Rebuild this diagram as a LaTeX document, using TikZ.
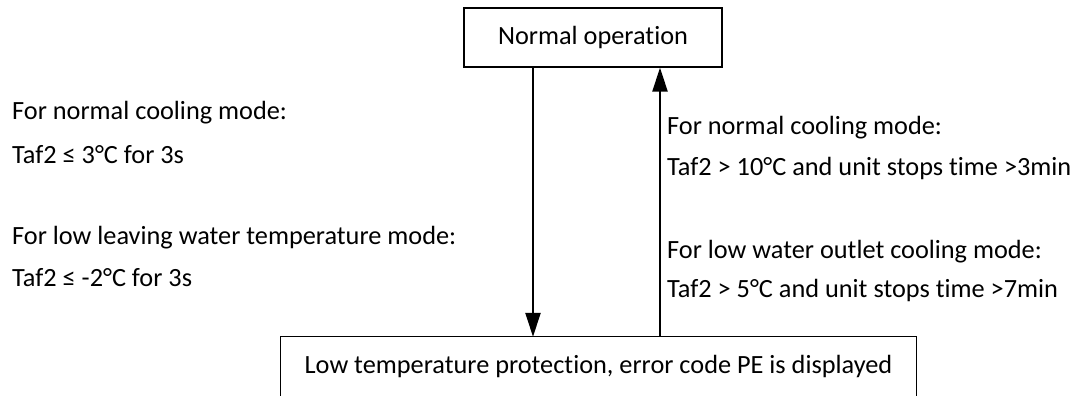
\documentclass[tikz,border=0pt]{standalone}
\usepackage{fontspec}
\setmainfont[Ligatures=CommonOff]{Carlito}
\usetikzlibrary{arrows.meta}
\begin{document}
\begin{tikzpicture}[x=1pt,y=-1pt,
  txt/.style={font=\fontsize{26.3}{31}\selectfont},
  box/.style={txt,draw=black,line width=1.3pt,minimum height=59pt,inner sep=0pt},
  lbl/.style={txt,anchor=west,inner sep=0pt},
  arr/.style={line width=2.4pt,-{Triangle[length=24pt,width=15pt]}}]
\useasboundingbox (0,0) rectangle (1080,396);
\node[box,minimum width=258pt] (top) at (593,37.5) {Normal operation};
\node[txt,inner sep=0pt,minimum width=635pt,minimum height=59pt] (bot) at (598.5,366.5) {Low temperature protection, error code PE is displayed};
\draw[line width=1.3pt] (bot.south west) -- (bot.north west) -- (bot.north east) -- (bot.south east);
\coordinate (dn) at (533,200);
\coordinate (up) at (660,200);
\draw[arr] (top.south -| dn) -- (bot.north -| dn);
\draw[arr] (bot.north -| up) -- (top.south -| up);
\node[lbl] (l1) at (12,113) {For normal cooling mode:};
\node[lbl] (l2) at (12,155) {Taf2 ≤ 3°C for 3s};
\node[lbl] (l3) at (12,238) {For low leaving water temperature mode:};
\node[lbl] (l4) at (12,278) {Taf2 ≤ -2°C for 3s};
\node[lbl] (r1) at (667,128) {For normal cooling mode:};
\node[lbl] (r2) at (667,168) {Taf2 > 10°C and unit stops time >3min};
\node[lbl] (r3) at (667,252) {For low water outlet cooling mode:};
\node[lbl] (r4) at (667,290) {Taf2 > 5°C and unit stops time >7min};
\end{tikzpicture}
\end{document}
